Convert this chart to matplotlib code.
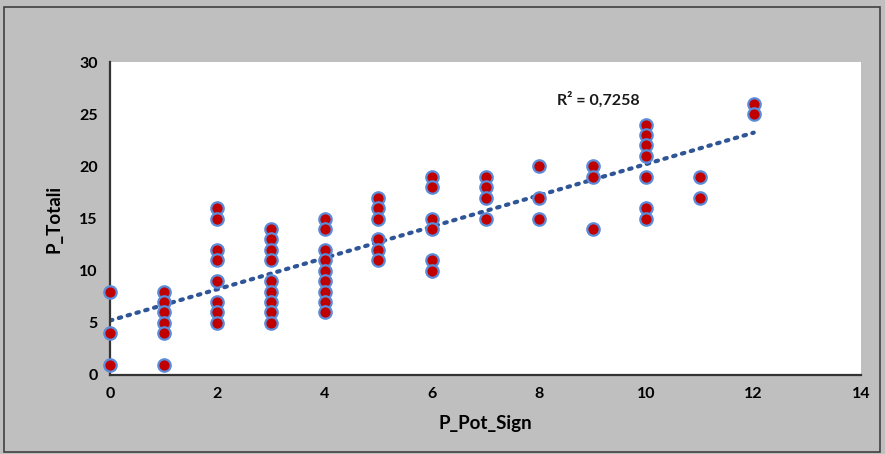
import matplotlib
matplotlib.use("Agg")
import matplotlib.pyplot as plt
import numpy as np
from matplotlib.patches import Rectangle

# values, grouped by x
x0 = [0, 0, 0]
y0 = [8, 4, 1]
x1 = [1] * 6
y1 = [8, 7, 6, 5, 4, 1]
x2 = [2] * 8
y2 = [16, 15, 12, 11, 9, 7, 6, 5]
x3 = [3] * 9
y3 = [14, 13, 12, 11, 9, 8, 7, 6, 5]
x4 = [4] * 9
y4 = [15, 14, 12, 11, 10, 9, 8, 7, 6]
x5 = [5] * 6
y5 = [17, 16, 15, 13, 12, 11]
x6 = [6] * 6
y6 = [19, 18, 15, 14, 11, 10]
x7 = [7] * 4
y7 = [19, 18, 17, 15]
x8 = [8] * 3
y8 = [20, 17, 15]
x9 = [9] * 3
y9 = [20, 19, 14]
x10 = [10] * 7
y10 = [24, 23, 22, 21, 19, 16, 15]
x11 = [11] * 2
y11 = [19, 17]
x12 = [12] * 2
y12 = [26, 25]

p_pot = np.array(x0 + x1 + x2 + x3 + x4 + x5 + x6 + x7 + x8 + x9 + x10 + x11 + x12)
p_tot = np.array(y0 + y1 + y2 + y3 + y4 + y5 + y6 + y7 + y8 + y9 + y10 + y11 + y12)

r2_label = "R² = 0,7258"
x_ticks = [0, 2, 4, 6, 8, 10, 12, 14]
y_ticks = [0, 5, 10, 15, 20, 25, 30]

font = "Lato"

fig = plt.figure(figsize=(8.85, 4.54), dpi=100, facecolor="#BFBFBF")
fig.patches.append(Rectangle((4 / 885, 2 / 454), 876 / 885, 445 / 454, transform=fig.transFigure,
                             fill=False, edgecolor="#404040", linewidth=1.2))
ax = fig.add_axes([110 / 885, 1 - 375 / 454, 751 / 885, 313 / 454])
ax.set_facecolor("white")

# linear trendline
k, b = np.polyfit(p_pot, p_tot, 1)
xs = np.array([p_pot.min(), p_pot.max()])
ax.plot(xs, k * xs + b, linestyle=(0, (0.6, 1.6)), color="#2F5597", linewidth=3,
        dash_capstyle="round", zorder=2)

ax.scatter(p_pot, p_tot, s=80, c="#C00000", edgecolors="#5B8BD9", linewidths=1.6,
           zorder=3, clip_on=False)

ax.text(9.1, 26.4, r2_label, ha="center", va="center", fontsize=11.5, fontweight="bold",
        family=font, color="#1a1a1a")

ax.set_xlim(0, 14)
ax.set_ylim(0, 30)
ax.set_xticks(x_ticks)
ax.set_yticks(y_ticks)
ax.tick_params(length=0, pad=9, labelsize=11.5)
for lab in ax.get_xticklabels() + ax.get_yticklabels():
    lab.set_fontweight("bold")
    lab.set_family(font)

for s in ["top", "right"]:
    ax.spines[s].set_visible(False)
for s in ["left", "bottom"]:
    ax.spines[s].set_color("#333333")
    ax.spines[s].set_linewidth(1.6)

ax.set_xlabel("P_Pot_Sign", fontsize=13.5, fontweight="bold", family=font, labelpad=10)
ax.set_ylabel("P_Totali", fontsize=13.5, fontweight="bold", family=font, labelpad=12)

fig.savefig("out.png", dpi=100, facecolor=fig.get_facecolor())
